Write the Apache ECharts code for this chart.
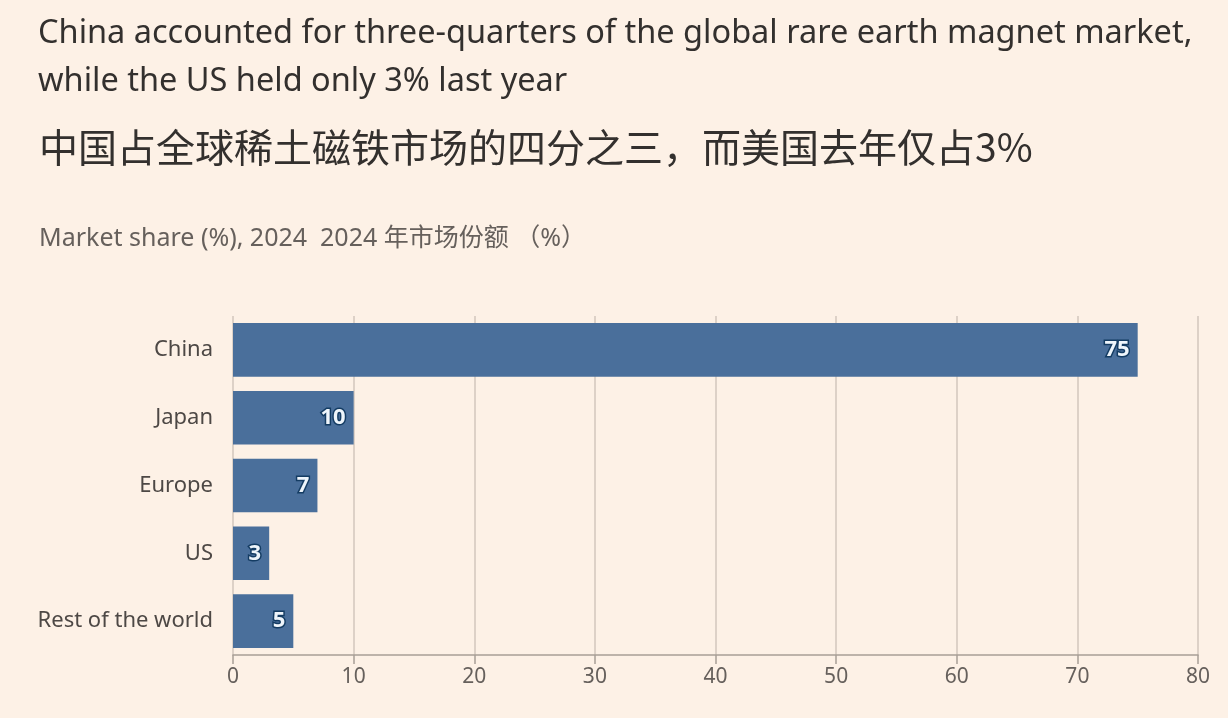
<!DOCTYPE html>
<html><head><meta charset="utf-8">
<script src="https://cdn.jsdelivr.net/npm/echarts@6/dist/echarts.min.js"></script>
<style>html,body{margin:0;padding:0;background:#fdf1e6;}#c{width:1228px;height:718px;}</style>
</head><body><div id="c"></div>
<script>
const categories = ["China", "Japan", "Europe", "US", "Rest of the world"];
const shareValues = [75, 10, 7, 3, 5];
const xTicks = [0, 10, 20, 30, 40, 50, 60, 70, 80];

const titleEn1 = "China accounted for three-quarters of the global rare earth magnet market,";
const titleEn2 = "while the US held only 3% last year";
const titleZh = "中国占全球稀土磁铁市场的四分之三，而美国去年仅占3%";
const subtitle = "Market share (%), 2024  2024 年市场份额 （%）";

const FONT = "'Noto Sans', 'Noto Sans CJK SC', sans-serif";
const chart = echarts.init(document.getElementById('c'));
chart.setOption({
  backgroundColor: '#fdf1e6',
  title: [
    {text: titleEn1, left: 33, top: 12, textStyle: {fontFamily: FONT, fontSize: 32.5, fontWeight: 'normal', color: '#33302e'}},
    {text: titleEn2, left: 33, top: 60, textStyle: {fontFamily: FONT, fontSize: 32.5, fontWeight: 'normal', color: '#33302e'}},
    {text: titleZh, left: 34, top: 123, textStyle: {fontFamily: "'Noto Sans CJK SC', sans-serif", fontSize: 39, fontWeight: 'normal', color: '#33302e'}},
    {text: subtitle, left: 34, top: 221, textStyle: {fontFamily: FONT, fontSize: 25, fontWeight: 'normal', color: '#66605c'}}
  ],
  grid: {left: 233, right: 30, top: 316, bottom: 63, containLabel: false},
  xAxis: {
    type: 'value', min: xTicks[0], max: xTicks[xTicks.length - 1], interval: 10,
    axisLine: {show: true, lineStyle: {color: '#a89f97', width: 1.5}},
    axisTick: {show: true, length: 9, lineStyle: {color: '#a89f97', width: 1.5}},
    axisLabel: {fontFamily: FONT, fontSize: 21, color: '#66605c', margin: 12},
    splitLine: {show: true, lineStyle: {color: '#d2c6bc', width: 1.5}}
  },
  yAxis: {
    type: 'category', data: categories, inverse: true,
    axisLine: {show: false}, axisTick: {show: false},
    axisLabel: {fontFamily: FONT, fontSize: 22, color: '#4d4845', margin: 20}
  },
  series: [{
    type: 'bar', data: shareValues, barCategoryGap: '21%',
    itemStyle: {color: '#4a6f9b'},
    label: {
      show: true, position: 'insideRight', distance: 8,
      fontFamily: FONT, fontSize: 22, fontWeight: 'bold', color: '#eef5fb',
      textBorderColor: '#143c63', textBorderWidth: 3
    },
    silent: true
  }]
});
</script></body></html>
